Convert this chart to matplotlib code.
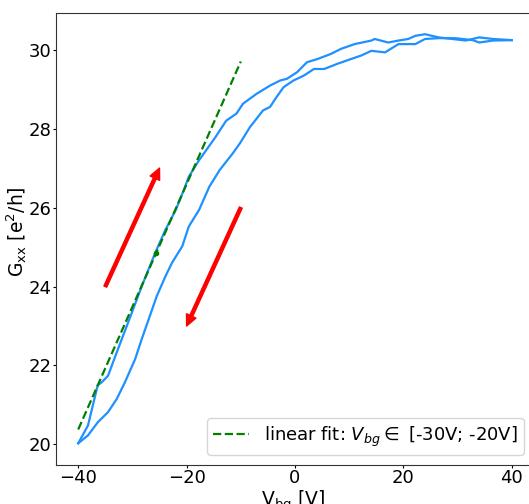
import matplotlib
matplotlib.use("Agg")
import matplotlib.pyplot as plt
from matplotlib.lines import Line2D

# Sweep up (upper-left branch)
v_up = [-40.0, -38.2, -36.4, -35.7, -34.5, -32.9, -30.1, -28.3, -25.8, -23.9, -22.0, -20.5,
        -19.6, -17.7, -16.4, -14.6, -12.7, -10.8, -9.6, -7.1, -4.6, -2.7, -1.5, 0.4, 2.2,
        4.1, 6.6, 8.5, 11.0, 14.1, 14.7, 17.2, 19.1, 20.9, 22.2, 24.0, 26.5, 29.0, 31.5,
        34.0, 36.5, 40.0]
g_up = [20.03, 20.48, 21.5, 21.57, 21.74, 22.33, 23.34, 24.0, 24.85, 25.44, 25.94, 26.45,
        26.78, 27.2, 27.45, 27.8, 28.2, 28.38, 28.63, 28.88, 29.09, 29.22, 29.26, 29.43, 29.68,
        29.76, 29.89, 30.02, 30.14, 30.23, 30.27, 30.18, 30.23, 30.27, 30.35, 30.39, 30.31,
        30.27, 30.23, 30.31, 30.27, 30.24]

# Sweep down (lower-right branch)
v_down = [40.0, 36.5, 34.0, 32.8, 29.6, 26.5, 24.0, 22.2, 19.1, 16.6, 14.1, 12.2, 10.3, 7.8,
          5.4, 3.5, 1.6, -0.25, -2.1, -3.4, -4.6, -5.9, -8.3, -10.2, -11.5, -13.9, -15.8,
          -17.7, -19.6, -20.8, -22.7, -23.9, -25.5, -27.0, -28.3, -29.5, -31.4, -32.9, -34.5,
          -36.4, -38.2, -40.0]
g_down = [30.24, 30.23, 30.18, 30.24, 30.29, 30.29, 30.27, 30.14, 30.14, 29.93, 29.97, 29.85,
          29.76, 29.64, 29.51, 29.51, 29.34, 29.22, 29.05, 28.8, 28.55, 28.46, 28.04, 27.62,
          27.37, 26.95, 26.53, 25.94, 25.52, 25.02, 24.6, 24.26, 23.76, 23.17, 22.66, 22.16,
          21.57, 21.15, 20.82, 20.56, 20.23, 20.03]

# Linear fit line endpoints and midpoint marker
fit_v = [-40.0, -10.0]
fit_g = [20.38, 29.70]
mid_v = [-25.7]
mid_g = [24.84]

# Arrows (tail -> head)
arrow_up = ((-35.0, 24.0), (-25.0, 27.0))
arrow_down = ((-10.0, 26.0), (-20.0, 23.0))

xticks = [-40, -20, 0, 20, 40]
yticks = [20, 22, 24, 26, 28, 30]

plt.rcParams['font.family'] = ['DejaVu Sans']
fig = plt.figure(figsize=(5.29, 5.04), dpi=100)
W, H = 529, 504
left, right, top, bottom = 56, 534, 13.3, 465
aw, ah = right - left, bottom - top
ax = fig.add_axes([left / W, 1 - bottom / H, aw / W, ah / H])

ax.plot(v_up, g_up, color='#1E90FF', lw=1.6)
ax.plot(v_down, g_down, color='#1E90FF', lw=1.6)
ax.plot(fit_v, fit_g, color='green', ls='--', lw=1.6)
ax.plot(mid_v, mid_g, 'o', color='green', ms=3)

for tail, head in (arrow_up, arrow_down):
    ax.annotate('', xy=head, xytext=tail,
                arrowprops=dict(color='red', width=2.2, headwidth=7.5, headlength=8, shrink=0))

ax.set_xlim(-44.1, 44.1)
ax.set_ylim(19.48, 30.92)
ax.set_xticks(xticks)
ax.set_yticks(yticks)
ax.tick_params(labelsize=13, length=2, pad=1.2)
for s in ax.spines.values():
    s.set_color('#333333')
ax.set_xlabel('V$_{\\rm bg}$ [V]', fontsize=13.5, va='top')
ax.xaxis.set_label_coords((293 - left) / aw, (bottom - 488) / ah)
ax.set_ylabel('G$_{\\rm xx}$ [e$^2$/h]', fontsize=13.5, va='center')
ax.yaxis.set_label_coords((17 - left) / aw, (bottom - 232) / ah)

handle = Line2D([], [], color='green', ls='--', lw=1.6)
leg = ax.legend([handle], ['linear fit: $V_{bg} \\in$ [-30V; -20V]'], loc='lower left',
                bbox_to_anchor=((207 - left) / aw, (bottom - 455) / ah),
                fontsize=13, borderaxespad=0, handlelength=2.0, borderpad=0.35)

fig.savefig('out.png', dpi=100)
